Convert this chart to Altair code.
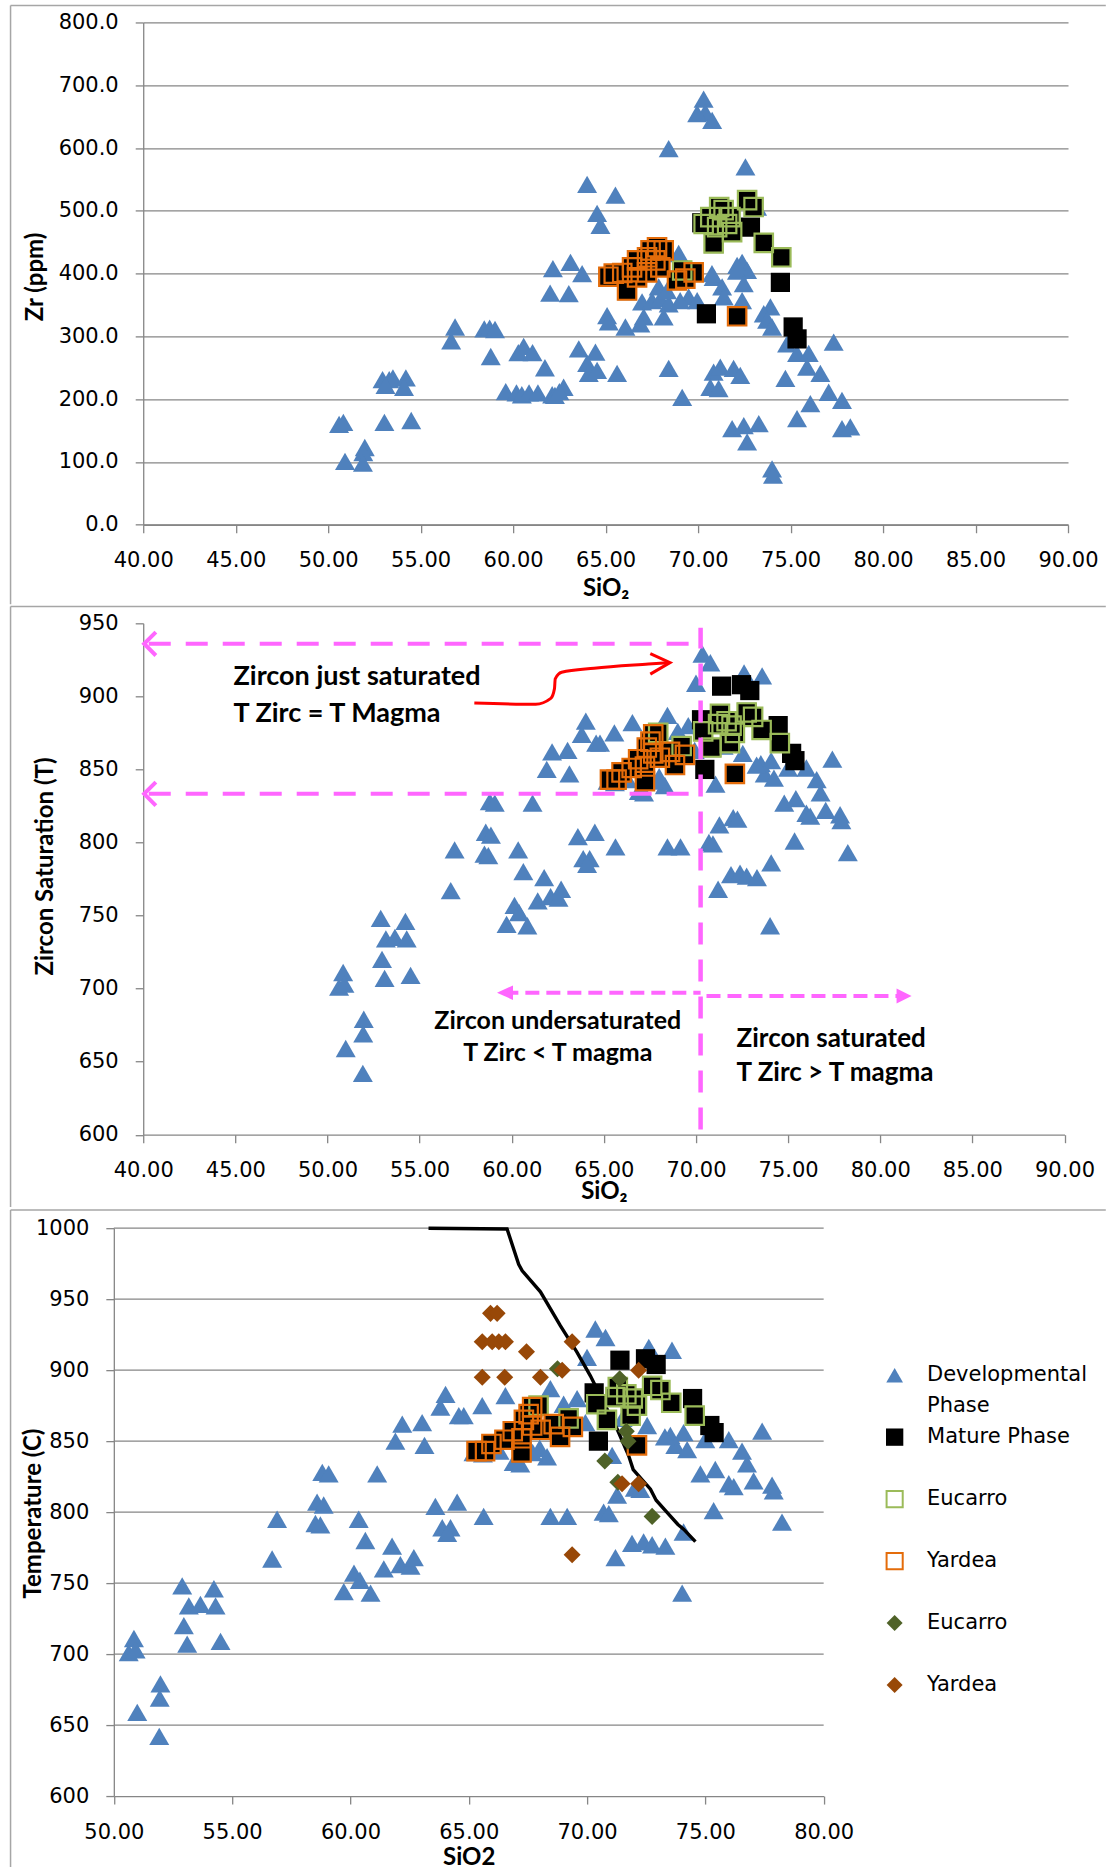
import altair as alt
import pandas as pd

# ------------------------------------------------------------------
# Top panel: Zr (ppm) against SiO2
# ------------------------------------------------------------------
dev_zr_sio2 = [50.59, 50.82, 50.91, 51.98, 51.90, 51.88, 52.94, 53.30, 53.50, 53.10,
               53.04, 54.20, 54.10, 54.49, 56.65, 56.86, 58.44, 58.73, 59.02, 58.79,
               59.60, 60.18, 60.47, 60.28, 60.57, 61.05, 60.86, 61.34, 62.11, 61.72,
               62.00, 62.15, 70.30, 70.39, 69.95, 70.76, 68.41, 72.56, 64.00, 65.53,
               64.54, 64.72, 73.19, 63.10, 63.73, 63.01, 72.38, 72.65, 72.10, 72.47,
               70.84, 71.30, 71.39, 68.95, 69.49, 69.95, 72.38, 65.08, 65.17, 66.07,
               66.97, 67.51, 67.06, 66.88, 67.96, 68.41, 68.14, 67.87, 68.32, 69.03,
               73.91, 73.55, 73.73, 74.00, 74.81, 77.33, 75.35, 75.98, 75.89, 74.72,
               76.61, 77.06, 77.78, 76.07, 75.35, 77.78, 78.23, 71.84, 72.47, 73.28,
               72.65, 74.00, 74.05, 70.84, 71.20, 71.92, 72.28, 70.66, 71.11, 69.14,
               68.41, 65.62, 63.55, 64.45, 64.00, 64.09, 64.54, 62.26, 62.73, 62.50,
               70.75, 72.11]
dev_zr = [160, 163, 101, 123, 115, 98, 231, 231, 234, 222,
          163, 234, 219, 166, 293, 315, 312, 313, 311, 268,
          212, 210, 207, 274, 284, 274, 210, 210, 207, 250,
          369, 408, 678, 657, 655, 644, 599, 570, 542, 525,
          496, 477, 506, 418, 400, 368, 418, 405, 404, 384,
          394, 379, 363, 432, 363, 357, 357, 333, 323, 315,
          355, 357, 331, 320, 360, 352, 331, 379, 373, 357,
          347, 336, 326, 315, 288, 291, 273, 273, 251, 233,
          241, 211, 198, 193, 169, 153, 156, 153, 158, 161,
          132, 89, 79, 243, 251, 249, 238, 219, 217, 203,
          249, 241, 280, 275, 257, 241, 246, 206, 219, 212,
          400, 413]

mat_zr_sio2 = [70.45, 74.45, 75.14, 75.35, 72.83, 70.20,
               70.84, 71.38, 72.65, 73.00, 73.55, 74.50, 70.30, 70.66, 71.03, 71.14,
               71.57, 71.84, 71.75, 69.14,
               65.44, 65.15, 66.16, 65.90, 66.43, 66.70, 67.24, 67.43, 67.78, 68.14,
               67.69, 67.96, 67.24, 66.70, 68.86, 69.31, 69.76, 72.11]
mat_zr = [336, 386, 315, 296, 474, 481,
          448, 501, 517, 506, 449, 426, 479, 490, 474, 506,
          479, 466, 490, 405,
          400, 395, 373, 401, 410, 421, 426, 437, 442, 437,
          421, 410, 402, 394, 389, 392, 402, 332]
mat_zr_suite = [""] * 6 + ["Eucarro"] * 14 + ["Yardea"] * 18

# ------------------------------------------------------------------
# Middle and bottom panels: zircon saturation temperature against SiO2
# ------------------------------------------------------------------
dev_t_sio2 = [50.63, 50.85, 50.92, 50.99, 51.97, 51.94, 51.92,
              52.89, 52.96, 53.10, 53.17, 53.66, 54.23, 54.30, 54.51,
              56.69, 56.90,
              58.52, 58.59, 58.87, 58.73, 58.81, 59.08,
              60.35, 60.63, 60.15, 60.40, 59.72, 60.85, 61.41, 61.13, 61.76,
              62.11, 62.54, 62.68,
              61.90, 62.19, 63.03, 63.13,
              63.59, 64.51, 63.88, 64.23, 64.09,
              65.63,
              64.02, 63.80, 64.58, 64.79, 65.57, 66.55, 68.45, 69.01, 69.58,
              66.90, 67.18, 68.31,
              68.45, 69.16,
              65.20, 65.60, 66.30, 67.70, 68.00,
              70.35, 70.78, 70.00, 72.61, 73.59,
              72.54, 73.52, 74.08, 73.73, 74.23, 73.29,
              71.06, 71.27, 72.02, 72.25,
              70.70, 70.92,
              71.20, 71.90, 72.39, 72.75, 73.31, 74.08, 74.02,
              75.35, 74.79, 75.42, 75.99, 76.20,
              77.40, 76.55, 76.76, 77.04, 77.82, 77.89, 78.24,
              75.99, 75.00,
              69.93, 71.50]
dev_t = [701, 711, 703, 659, 679, 669, 642,
         748, 720, 707, 734, 735, 746, 734, 709,
         767, 795,
         792, 807, 805, 791, 828, 827,
         795, 780, 757, 752, 744, 743, 760, 827, 776,
         763, 762, 768,
         850, 862, 863, 847,
         804, 807, 789, 789, 785,
         797,
         883, 874, 868, 868, 875, 882, 887, 876, 880,
         835, 834, 839,
         797, 797,
         842, 841, 843, 842, 845,
         929, 923, 909, 916, 914,
         861, 854, 856, 847, 844, 853,
         840, 812, 817, 816,
         800, 799,
         768, 778, 779, 777, 776, 786, 743,
         801, 827, 830, 820, 818,
         857, 843, 834, 822, 819, 815, 793,
         851, 851,
         863, 866]

mat_t_sio2 = [71.39, 72.47, 72.92, 70.30, 74.46, 75.19, 75.37, 70.48,
              70.39, 71.30, 71.66, 71.93, 71.20, 72.11, 71.84, 70.84, 72.75, 73.10,
              73.56, 74.55, 69.22, 67.95,
              72.11, 69.40, 68.86, 67.68, 67.53, 67.33, 67.68, 68.04, 66.86, 67.23,
              66.51, 65.96, 65.69, 65.33, 67.23, 68.59]
mat_t = [907, 908, 904, 884, 880, 861, 856, 850,
         876, 888, 883, 880, 881, 875, 868, 865, 889, 886,
         877, 868, 866, 875,
         847, 860, 853, 874, 869, 865, 861, 858, 857, 852,
         851, 848, 843, 843, 842, 862]
mat_t_suite = [""] * 8 + ["Eucarro"] * 14 + ["Yardea"] * 16

# bottom panel: whole-rock suites and the saturation curve
eucarro_sio2 = [68.75, 71.38, 71.66, 71.73, 70.75, 72.75, 71.30]
eucarro_t = [901, 894, 857, 850, 836, 797, 821]
yardea_sio2 = [65.92, 66.20, 65.57, 65.99, 66.27, 66.55, 67.44, 65.57, 66.52, 68.03,
               68.95, 69.37, 72.18, 71.48, 72.18, 69.37]
yardea_t = [940, 940, 920, 920, 920, 920, 913, 895, 895, 895,
            900, 920, 900, 820, 820, 770]
curve_sio2 = [63.30, 66.62, 67.11, 67.26, 68.03, 68.87, 69.56, 70.14, 70.70, 71.27,
              71.76, 71.95, 72.68, 72.92, 73.38, 73.84, 74.08, 74.58]
curve_t = [1000.0, 999.4, 974.6, 970.0, 955.2, 931.3, 913.0, 896.0, 877.3, 858.5,
           839.7, 830.0, 816.2, 808.4, 799.8, 791.3, 788.0, 779.2]

# middle panel guide lines (data units)
just_sat_sio2 = 70.25
just_sat_t = [936.0, 833.3]
guide_left_sio2 = 40.3
under_arrow_sio2 = [59.6, 70.25]
under_arrow_t = 697.2
over_arrow_sio2 = [70.57, 81.2]
over_arrow_t = 694.9
red_sio2 = [57.97, 61.30, 62.12, 62.32, 62.36, 62.71, 64.47, 67.42, 68.59]
red_t = [895.5, 894.6, 898.6, 905.3, 912.0, 916.5, 919.3, 922.1, 923.1]
red_head_sio2 = [67.52, 68.59, 67.52]
red_head_t = [929.3, 923.1, 915.2]

note_top_text = ["Zircon just saturated", "T Zirc = T Magma"]
note_top_sio2 = [44.9, 44.9]
note_top_t = [913.3, 888.0]
note_right_text = ["Zircon saturated", "T Zirc > T magma"]
note_right_sio2 = [72.2, 72.2]
note_right_t = [665.7, 642.2]
note_mid_text = ["Zircon undersaturated", "T Zirc < T magma"]
note_mid_sio2 = [62.5, 62.5]
note_mid_t = [677.9, 655.6]

legend_lines = [["Developmental", "Phase"], ["Mature Phase"], ["Eucarro"],
                ["Yardea"], ["Eucarro"], ["Yardea"]]

# ------------------------------------------------------------------
# styling
# ------------------------------------------------------------------
BLUE = "#4F81BD"
GREEN = "#9BBB59"
ORANGE = "#E46C0A"
OLIVE = "#4F6228"
BROWN = "#984807"
MAGENTA = "#FF66FF"
AXIS_GRAY = "#868686"
FRAME_GRAY = "#A6A6A6"
TITLE_FONT = "Lato, DejaVu Sans"

TRI, SQ, SQ_OUT, DIA = 400, 370, 340, 290

# all three cells share one plot origin on the x axis; the bottom panel's
# axes start further left, which its x range and y-axis offset take care of
ORIGIN_X = 142.7
BOX1 = (142.7, 22.0, 925.0, 502.4)    # (left, top, width, height) on the page
BOX2 = (142.7, 622.2, 921.5, 511.5)
BOX3 = (113.3, 1225.7, 710.0, 568.0)
SHIFT3 = ORIGIN_X - BOX3[0]
FRAME_TOPS = [5.0, 605.5, 1207.4, 1866.0]
FRAME_LEFT = 10.0
PAGE_RIGHT = 1105.5

one_row = pd.DataFrame({"k": [0]})


def frame(idx, top_y):
    top = FRAME_TOPS[idx]
    bottom = FRAME_TOPS[idx + 1] - (1.5 if idx < 2 else 0.0)
    base = alt.Chart(one_row).mark_rule(color=FRAME_GRAY, strokeWidth=1.5)
    horiz = base.encode(x=alt.value(FRAME_LEFT - ORIGIN_X), x2=alt.value(PAGE_RIGHT - ORIGIN_X),
                        y=alt.value(top - top_y))
    vert = base.encode(x=alt.value(FRAME_LEFT - ORIGIN_X), y=alt.value(top - top_y),
                       y2=alt.value(bottom - top_y))
    return [horiz, vert]


def x_axis(values, title, box, title_y):
    return alt.Axis(values=values, format=".2f", title=title, grid=False,
                    titleX=box[0] - ORIGIN_X + box[2] / 2, titleY=title_y - (box[1] + box[3]),
                    titleBaseline="middle", titleAlign="center", titleAngle=0,
                    labelFlush=False, labelOverlap=False)


def y_axis(values, fmt, title, box, title_x, title_y, grid, offset=0.0):
    return alt.Axis(values=values, format=fmt, title=title, grid=grid, offset=offset,
                    titleX=title_x - box[0], titleY=title_y - box[1],
                    titleBaseline="middle", titleAlign="center", titleAngle=270,
                    labelFlush=False, labelOverlap=False)


def pos(field, channel, domain, axis, rng=None):
    if rng is None:
        sc = alt.Scale(domain=domain, nice=False, zero=False)
    else:
        sc = alt.Scale(domain=domain, range=rng, nice=False, zero=False)
    if channel == "x":
        return alt.X(f"{field}:Q", scale=sc, axis=axis)
    return alt.Y(f"{field}:Q", scale=sc, axis=axis)


def squares(df, xenc, yenc, yfield):
    return [
        alt.Chart(df).mark_point(shape="square", filled=True, color="black", size=SQ, opacity=1)
        .encode(x=xenc("sio2"), y=yenc(yfield)),
        alt.Chart(df[df.suite == "Eucarro"]).mark_point(shape="square", filled=False, color=GREEN,
                                                        strokeWidth=2.2, size=SQ_OUT, opacity=1)
        .encode(x=xenc("sio2"), y=yenc(yfield)),
        alt.Chart(df[df.suite == "Yardea"]).mark_point(shape="square", filled=False, color=ORANGE,
                                                       strokeWidth=2.2, size=SQ_OUT, opacity=1)
        .encode(x=xenc("sio2"), y=yenc(yfield)),
    ]


def notes(df, xenc, yenc, align, size):
    return alt.Chart(df).mark_text(font=TITLE_FONT, fontWeight="bold", fontSize=size,
                                   align=align, baseline="middle", color="black") \
        .encode(x=xenc("x"), y=yenc("y"), text="txt:N")


# ------------------------------------------------------------------
# panel 1
# ------------------------------------------------------------------
ax1x = x_axis(list(range(40, 91, 5)), "SiO\u2082", BOX1, 588.0)
ax1y = y_axis(list(range(0, 801, 100)), ".1f", "Zr (ppm)", BOX1, 34.5, 276.0, True)
X1 = lambda f: pos(f, "x", [40, 90], ax1x)
Y1 = lambda f: pos(f, "y", [0, 800], ax1y)

dev1 = pd.DataFrame({"sio2": dev_zr_sio2, "zr": dev_zr})
mat1 = pd.DataFrame({"sio2": mat_zr_sio2, "zr": mat_zr, "suite": mat_zr_suite})

p1_layers = frame(0, BOX1[1]) + [
    alt.Chart(dev1).mark_point(shape="triangle-up", filled=True, color=BLUE, size=TRI, opacity=1)
    .encode(x=X1("sio2"), y=Y1("zr")),
] + squares(mat1, X1, Y1, "zr")
panel1 = alt.layer(*p1_layers).properties(width=BOX1[2], height=BOX1[3])

# ------------------------------------------------------------------
# panel 2
# ------------------------------------------------------------------
ax2x = x_axis(list(range(40, 91, 5)), "SiO\u2082", BOX2, 1191.0)
ax2y = y_axis(list(range(600, 951, 50)), "d", "Zircon Saturation (T)", BOX2, 45.0, 865.0, False)
X2 = lambda f: pos(f, "x", [40, 90], ax2x)
Y2 = lambda f: pos(f, "y", [600, 950], ax2y)

dev_t_df = pd.DataFrame({"sio2": dev_t_sio2, "t": dev_t})
mat_t_df = pd.DataFrame({"sio2": mat_t_sio2, "t": mat_t, "suite": mat_t_suite})

guide_h = pd.DataFrame({"x": [guide_left_sio2] * 2, "x2": [just_sat_sio2] * 2, "y": just_sat_t})
guide_v = pd.DataFrame({"x": [just_sat_sio2], "y": [603.6], "y2": [947.0]})
guide_under = pd.DataFrame({"x": [under_arrow_sio2[0]], "x2": [under_arrow_sio2[1]], "y": [under_arrow_t]})
guide_over = pd.DataFrame({"x": [over_arrow_sio2[0]], "x2": [over_arrow_sio2[1]], "y": [over_arrow_t]})
chevrons = pd.DataFrame({"x": [40.05, 40.05], "y": just_sat_t})
head_left = pd.DataFrame({"x": [under_arrow_sio2[0] - 0.4], "y": [under_arrow_t]})
head_right = pd.DataFrame({"x": [over_arrow_sio2[1] + 0.5], "y": [over_arrow_t]})
red_df = pd.DataFrame({"x": red_sio2, "y": red_t, "o": list(range(len(red_sio2)))})
red_head_df = pd.DataFrame({"x": red_head_sio2, "y": red_head_t, "o": [0, 1, 2]})
notes_top = pd.DataFrame({"x": note_top_sio2, "y": note_top_t, "txt": note_top_text})
notes_right = pd.DataFrame({"x": note_right_sio2, "y": note_right_t, "txt": note_right_text})
notes_mid = pd.DataFrame({"x": note_mid_sio2, "y": note_mid_t, "txt": note_mid_text})

p2_layers = frame(1, BOX2[1]) + [
    alt.Chart(dev_t_df).mark_point(shape="triangle-up", filled=True, color=BLUE, size=TRI, opacity=1)
    .encode(x=X2("sio2"), y=Y2("t")),
] + squares(mat_t_df, X2, Y2, "t") + [
    alt.Chart(guide_h).mark_rule(color=MAGENTA, strokeWidth=4, strokeDash=[22, 15])
    .encode(x=X2("x"), x2="x2:Q", y=Y2("y")),
    alt.Chart(guide_v).mark_rule(color=MAGENTA, strokeWidth=4.5, strokeDash=[22, 15])
    .encode(x=X2("x"), y=Y2("y"), y2="y2:Q"),
    alt.Chart(guide_under).mark_rule(color=MAGENTA, strokeWidth=4, strokeDash=[14, 7])
    .encode(x=X2("x"), x2="x2:Q", y=Y2("y")),
    alt.Chart(guide_over).mark_rule(color=MAGENTA, strokeWidth=4, strokeDash=[14, 7])
    .encode(x=X2("x"), x2="x2:Q", y=Y2("y")),
    alt.Chart(chevrons).mark_point(shape="M1,-1L0,0L1,1", filled=False, color=MAGENTA,
                                   strokeWidth=4, size=550, opacity=1)
    .encode(x=X2("x"), y=Y2("y")),
    alt.Chart(head_left).mark_point(shape="M0,0L1,-0.45L1,0.45Z", filled=True, color=MAGENTA,
                                    size=1024, opacity=1)
    .encode(x=X2("x"), y=Y2("y")),
    alt.Chart(head_right).mark_point(shape="M0,0L-1,-0.5L-1,0.5Z", filled=True, color=MAGENTA,
                                     size=900, opacity=1)
    .encode(x=X2("x"), y=Y2("y")),
    alt.Chart(red_df).mark_line(color="#FF0000", strokeWidth=3, interpolate="monotone")
    .encode(x=X2("x"), y=Y2("y"), order="o:Q"),
    alt.Chart(red_head_df).mark_line(color="#FF0000", strokeWidth=3)
    .encode(x=X2("x"), y=Y2("y"), order="o:Q"),
    notes(notes_top, X2, Y2, "left", 27),
    notes(notes_right, X2, Y2, "left", 26),
    notes(notes_mid, X2, Y2, "center", 25),
]
panel2 = alt.layer(*p2_layers).properties(width=BOX2[2], height=BOX2[3])

# ------------------------------------------------------------------
# panel 3
# ------------------------------------------------------------------
x3_range = [-SHIFT3, BOX3[2] - SHIFT3]
ax3x = x_axis(list(range(50, 81, 5)), "SiO2", BOX3, 1855.0)
ax3y = y_axis(list(range(600, 1001, 50)), "d", "Temperature (C)", BOX3, 33.0, 1510.6, False,
              offset=SHIFT3)
X3 = lambda f: pos(f, "x", [50, 80], ax3x, x3_range)
Y3 = lambda f: pos(f, "y", [600, 1000], ax3y)

grid3 = pd.DataFrame({"t": list(range(650, 1001, 50)), "x": [50] * 8, "x2": [80] * 8})
curve_df = pd.DataFrame({"sio2": curve_sio2, "t": curve_t, "o": list(range(len(curve_sio2)))})
euc_df = pd.DataFrame({"sio2": eucarro_sio2, "t": eucarro_t})
yar_df = pd.DataFrame({"sio2": yardea_sio2, "t": yardea_t})

legend_sym = pd.DataFrame({
    "row": list(range(6)),
    "shape": ["triangle-up", "square", "square", "square", "diamond", "diamond"],
    "fill": [BLUE, "black", "white", "white", OLIVE, BROWN],
    "stroke": [BLUE, "black", GREEN, ORANGE, OLIVE, BROWN],
    "sw": [0, 0, 2, 2, 0, 0],
    "size": [280, 300, 260, 260, 256, 256],
})
legend_txt = pd.DataFrame(
    [{"row": r, "line": i, "txt": t} for r, lines in enumerate(legend_lines) for i, t in enumerate(lines)]
)
LEG_SYM_X = 894.3 - ORIGIN_X
LEG_TXT_X = 926.7 - ORIGIN_X
LEG_ROW0, LEG_STEP, LEG_LINE = 147.0, 62.0, 31.3

p3_layers = frame(2, BOX3[1]) + [
    alt.Chart(grid3).mark_rule(color=AXIS_GRAY, strokeWidth=1.3)
    .encode(x=X3("x"), x2="x2:Q", y=Y3("t")),
    alt.Chart(dev_t_df).mark_point(shape="triangle-up", filled=True, color=BLUE, size=TRI, opacity=1)
    .encode(x=X3("sio2"), y=Y3("t")),
    alt.Chart(curve_df).mark_line(color="black", strokeWidth=3.4)
    .encode(x=X3("sio2"), y=Y3("t"), order="o:Q"),
] + squares(mat_t_df, X3, Y3, "t") + [
    alt.Chart(euc_df).mark_point(shape="diamond", filled=True, color=OLIVE, size=DIA, opacity=1)
    .encode(x=X3("sio2"), y=Y3("t")),
    alt.Chart(yar_df).mark_point(shape="diamond", filled=True, color=BROWN, size=DIA, opacity=1)
    .encode(x=X3("sio2"), y=Y3("t")),
    alt.Chart(legend_sym).mark_point(opacity=1, filled=True)
    .transform_calculate(lx=f"{LEG_SYM_X}", ly=f"{LEG_ROW0} + {LEG_STEP} * datum.row")
    .encode(x=alt.X("lx:Q", scale=None, axis=None), y=alt.Y("ly:Q", scale=None, axis=None),
            shape=alt.Shape("shape:N", scale=None), fill=alt.Fill("fill:N", scale=None),
            stroke=alt.Stroke("stroke:N", scale=None), strokeWidth=alt.StrokeWidth("sw:Q", scale=None),
            size=alt.Size("size:Q", scale=None)),
    alt.Chart(legend_txt).mark_text(font="DejaVu Sans", fontSize=21, align="left",
                                    baseline="middle", color="black")
    .transform_calculate(lx=f"{LEG_TXT_X}",
                         ly=f"{LEG_ROW0} + {LEG_STEP} * datum.row + {LEG_LINE} * datum.line")
    .encode(x=alt.X("lx:Q", scale=None, axis=None), y=alt.Y("ly:Q", scale=None, axis=None),
            text="txt:N"),
]
panel3 = alt.layer(*p3_layers).properties(width=BOX3[2] - SHIFT3, height=BOX3[3])

chart = (
    alt.concat(panel1, panel2, panel3, columns=1, spacing=0)
    .properties(bounds="full", background="white",
                padding={"left": FRAME_LEFT - 0.75, "top": FRAME_TOPS[0] - 0.75, "right": 0, "bottom": 0})
    .configure_view(stroke=None)
    .configure_axis(labelFont="DejaVu Sans", labelFontSize=21, labelColor="black",
                    titleFont=TITLE_FONT, titleFontSize=24, titleFontWeight="bold", titleColor="black",
                    domainColor=AXIS_GRAY, domainWidth=1.3, tickColor=AXIS_GRAY, tickWidth=1.3,
                    tickSize=8, gridColor=AXIS_GRAY, gridWidth=1.3, labelPadding=17)
)

chart.save("out.html", embed_options={"renderer": "svg", "actions": False})
